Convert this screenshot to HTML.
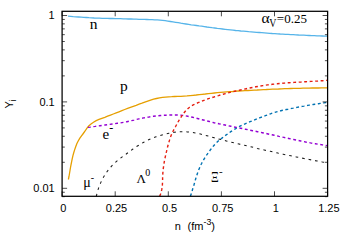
<!DOCTYPE html>
<html><head><meta charset="utf-8"><style>
html,body{margin:0;padding:0;background:#fff;}
svg{display:block;}
text{font-family:"Liberation Sans",sans-serif;font-size:11px;fill:#000;}
.s{font-family:"Liberation Serif",serif;}
</style></head><body>
<svg width="348" height="244" viewBox="0 0 348 244">
<rect width="348" height="244" fill="#fff"/>
<path d="M68.0,16.1 L70.6,16.3 L73.2,16.6 L75.9,16.8 L78.5,17.0 L81.1,17.2 L83.7,17.4 L86.4,17.5 L89.0,17.7 L91.6,17.8 L94.2,18.0 L96.9,18.1 L99.5,18.2 L102.1,18.3 L104.8,18.3 L107.4,18.4 L110.0,18.5 L112.7,18.5 L115.3,18.6 L117.9,18.7 L120.5,18.7 L123.2,18.8 L125.8,18.9 L128.4,19.0 L131.1,19.0 L133.7,19.1 L136.3,19.2 L139.0,19.3 L141.6,19.3 L144.2,19.4 L146.9,19.5 L149.5,19.6 L152.1,19.7 L154.7,19.8 L157.4,19.9 L160.0,20.1 L162.6,20.4 L165.2,20.7 L167.8,21.1 L170.4,21.5 L173.0,21.9 L175.6,22.3 L178.2,22.7 L180.8,23.2 L183.4,23.6 L186.0,24.0 L188.6,24.4 L191.2,24.8 L193.8,25.1 L196.4,25.5 L199.1,25.9 L201.7,26.2 L204.3,26.6 L206.9,27.0 L209.5,27.3 L212.1,27.7 L214.7,28.0 L217.3,28.4 L219.9,28.7 L222.5,29.0 L225.1,29.3 L227.8,29.6 L230.4,29.9 L233.0,30.2 L235.6,30.5 L238.2,30.7 L240.8,31.0 L243.5,31.2 L246.1,31.4 L248.7,31.7 L251.3,31.9 L253.9,32.1 L256.6,32.3 L259.2,32.5 L261.8,32.7 L264.4,32.9 L267.1,33.1 L269.7,33.3 L272.3,33.5 L274.9,33.6 L277.6,33.8 L280.2,34.0 L282.8,34.1 L285.4,34.3 L288.1,34.4 L290.7,34.6 L293.3,34.7 L295.9,34.8 L298.6,35.0 L301.2,35.1 L303.8,35.2 L306.5,35.4 L309.1,35.5 L311.7,35.6 L314.3,35.7 L317.0,35.8 L319.6,35.9 L322.2,36.0 L324.9,36.1 L327.5,36.2" fill="none" stroke="#56B4E9" stroke-width="1.3"/>
<path d="M68.4,179.5 L69.0,176.5 L69.5,173.5 L70.0,170.5 L70.5,167.5 L71.1,164.4 L71.7,161.4 L72.3,158.4 L73.0,155.4 L73.8,152.5 L74.7,149.6 L75.7,146.7 L76.8,143.8 L78.2,141.0 L79.7,138.4 L81.5,135.9 L83.3,133.5 L85.1,131.0 L86.8,128.4 L88.7,126.0 L91.0,124.0 L93.5,122.2 L96.2,120.7 L99.0,119.4 L101.9,118.3 L104.8,117.3 L107.6,116.2 L110.5,115.1 L113.3,114.0 L116.2,112.9 L119.0,111.8 L121.9,110.6 L124.7,109.5 L127.6,108.4 L130.4,107.4 L133.3,106.3 L136.2,105.3 L139.1,104.2 L142.0,103.2 L144.8,102.1 L147.7,101.1 L150.6,100.1 L153.6,99.2 L156.5,98.5 L159.5,97.9 L162.5,97.4 L165.6,97.1 L168.6,96.8 L171.7,96.7 L174.7,96.5 L177.8,96.4 L180.9,96.3 L184.0,96.1 L187.0,95.9 L190.1,95.6 L193.1,95.3 L196.2,95.0 L199.2,94.6 L202.2,94.3 L205.3,94.0 L208.3,93.6 L211.4,93.3 L214.4,93.0 L217.4,92.7 L220.5,92.4 L223.5,92.1 L226.6,91.9 L229.6,91.7 L232.7,91.5 L235.8,91.2 L238.8,91.0 L241.9,90.9 L244.9,90.7 L248.0,90.5 L251.0,90.3 L254.1,90.1 L257.1,90.0 L260.2,89.8 L263.3,89.6 L266.3,89.5 L269.4,89.3 L272.4,89.2 L275.5,89.1 L278.5,89.0 L281.6,88.8 L284.7,88.7 L287.7,88.6 L290.8,88.5 L293.8,88.4 L296.9,88.4 L300.0,88.3 L303.0,88.2 L306.1,88.1 L309.1,88.1 L312.2,88.0 L315.3,88.0 L318.3,88.0 L321.4,87.9 L324.4,87.9 L327.5,87.9" fill="none" stroke="#E69F00" stroke-width="1.3"/>
<path d="M87.9,127.4 L90.3,127.1 L92.8,126.7 L95.2,126.4 L97.7,126.0 L100.1,125.7 L102.5,125.4 L105.0,125.0 L107.4,124.7 L109.9,124.4 L112.3,124.0 L114.7,123.7 L117.2,123.3 L119.6,123.0 L122.0,122.6 L124.5,122.2 L126.9,121.7 L129.3,121.2 L131.7,120.6 L134.1,120.1 L136.5,119.5 L138.9,118.9 L141.3,118.4 L143.7,117.9 L146.1,117.5 L148.6,117.1 L151.0,116.7 L153.4,116.3 L155.9,116.0 L158.3,115.8 L160.8,115.5 L163.2,115.3 L165.7,115.2 L168.1,115.1 L170.6,115.0 L173.1,115.0 L175.5,114.9 L178.0,115.0 L180.4,115.1 L182.9,115.4 L185.3,115.8 L187.8,116.3 L190.2,116.8 L192.6,117.3 L195.0,117.9 L197.4,118.5 L199.8,119.1 L202.1,119.7 L204.5,120.3 L206.9,120.9 L209.3,121.5 L211.7,122.1 L214.1,122.7 L216.5,123.2 L218.9,123.8 L221.3,124.3 L223.7,124.8 L226.1,125.3 L228.5,125.8 L230.9,126.3 L233.3,126.8 L235.7,127.3 L238.2,127.7 L240.6,128.2 L243.0,128.7 L245.4,129.2 L247.8,129.7 L250.2,130.2 L252.7,130.7 L255.1,131.2 L257.5,131.7 L259.9,132.2 L262.3,132.7 L264.7,133.2 L267.1,133.7 L269.5,134.3 L271.9,134.8 L274.3,135.3 L276.7,135.8 L279.1,136.4 L281.5,136.9 L283.9,137.4 L286.3,138.0 L288.8,138.5 L291.2,139.0 L293.6,139.5 L296.0,140.0 L298.4,140.5 L300.8,141.0 L303.2,141.5 L305.6,142.0 L308.1,142.4 L310.5,142.9 L312.9,143.3 L315.3,143.7 L317.8,144.1 L320.2,144.5 L322.6,144.9 L325.1,145.3 L327.5,145.6" fill="none" stroke="#9400D3" stroke-width="1.4" stroke-dasharray="2.9 2.6"/>
<path d="M96.3,196.3 L96.9,193.7 L97.6,191.1 L98.4,188.6 L99.3,186.1 L100.3,183.6 L101.4,181.2 L102.6,178.8 L103.9,176.5 L105.3,174.2 L106.8,172.0 L108.4,169.9 L110.1,167.8 L111.8,165.8 L113.7,163.9 L115.7,162.1 L117.7,160.4 L119.8,158.8 L121.9,157.1 L124.0,155.6 L126.2,154.0 L128.3,152.4 L130.5,150.8 L132.6,149.3 L134.8,147.8 L137.0,146.3 L139.3,144.9 L141.5,143.5 L143.8,142.2 L146.2,140.9 L148.6,139.8 L151.0,138.7 L153.5,137.7 L156.0,136.8 L158.5,136.0 L161.1,135.2 L163.7,134.5 L166.3,133.9 L168.9,133.3 L171.5,132.8 L174.1,132.3 L176.7,132.0 L179.4,131.8 L182.0,131.7 L184.7,131.7 L187.3,131.9 L190.0,132.2 L192.6,132.5 L195.3,133.0 L197.9,133.5 L200.5,134.1 L203.1,134.7 L205.7,135.4 L208.2,136.1 L210.8,136.8 L213.3,137.5 L215.9,138.2 L218.5,138.9 L221.0,139.6 L223.6,140.3 L226.2,140.9 L228.8,141.6 L231.3,142.2 L233.9,142.8 L236.5,143.5 L239.1,144.1 L241.7,144.7 L244.3,145.3 L246.9,145.9 L249.4,146.5 L252.0,147.1 L254.6,147.7 L257.2,148.4 L259.8,149.0 L262.4,149.6 L265.0,150.2 L267.6,150.7 L270.2,151.3 L272.8,151.9 L275.3,152.5 L277.9,153.1 L280.5,153.6 L283.1,154.2 L285.7,154.8 L288.3,155.3 L290.9,155.8 L293.5,156.4 L296.1,156.9 L298.8,157.4 L301.4,158.0 L304.0,158.5 L306.6,159.0 L309.2,159.5 L311.8,160.0 L314.4,160.5 L317.0,160.9 L319.6,161.4 L322.3,161.9 L324.9,162.3 L327.5,162.8" fill="none" stroke="#1a1a1a" stroke-width="1.05" stroke-dasharray="2.6 4.0"/>
<path d="M159.7,196.2 L160.6,194.0 L161.3,191.7 L161.8,189.4 L162.2,187.0 L162.4,184.6 L162.5,182.2 L162.6,179.8 L162.6,177.3 L162.7,174.9 L162.9,172.5 L163.1,170.0 L163.4,167.7 L163.7,165.3 L164.1,162.9 L164.5,160.6 L165.0,158.2 L165.5,155.9 L166.0,153.5 L166.6,151.2 L167.1,148.8 L167.7,146.5 L168.3,144.2 L169.0,141.9 L169.7,139.6 L170.4,137.3 L171.3,135.0 L172.2,132.8 L173.3,130.7 L174.4,128.6 L175.6,126.5 L176.7,124.4 L177.9,122.3 L179.1,120.2 L180.4,118.1 L181.7,116.1 L183.0,114.1 L184.5,112.2 L186.0,110.4 L187.8,108.7 L189.6,107.2 L191.6,105.8 L193.7,104.7 L195.9,103.7 L198.1,102.7 L200.3,101.8 L202.5,100.9 L204.8,100.0 L207.0,99.2 L209.3,98.4 L211.6,97.7 L213.9,97.0 L216.2,96.2 L218.5,95.6 L220.8,94.9 L223.1,94.2 L225.4,93.6 L227.7,93.0 L230.0,92.4 L232.4,91.8 L234.7,91.3 L237.0,90.8 L239.4,90.2 L241.7,89.7 L244.1,89.2 L246.4,88.7 L248.8,88.2 L251.1,87.7 L253.5,87.3 L255.8,86.8 L258.2,86.4 L260.6,86.0 L262.9,85.6 L265.3,85.2 L267.7,84.9 L270.1,84.6 L272.4,84.3 L274.8,84.0 L277.2,83.8 L279.6,83.5 L282.0,83.3 L284.4,83.1 L286.8,82.9 L289.2,82.7 L291.6,82.6 L294.0,82.4 L296.4,82.3 L298.8,82.1 L301.2,82.0 L303.6,81.8 L306.0,81.7 L308.4,81.6 L310.8,81.4 L313.2,81.3 L315.6,81.1 L317.9,81.0 L320.3,80.8 L322.7,80.7 L325.1,80.5 L327.5,80.3" fill="none" stroke="#E51E10" stroke-width="1.4" stroke-dasharray="2.9 2.6"/>
<path d="M190.4,196.2 L191.0,194.5 L191.6,192.8 L192.1,191.1 L192.6,189.3 L193.1,187.6 L193.7,185.8 L194.2,184.1 L194.7,182.3 L195.2,180.6 L195.7,178.8 L196.2,177.0 L196.8,175.3 L197.4,173.6 L198.0,171.8 L198.6,170.1 L199.3,168.4 L200.0,166.8 L200.7,165.1 L201.6,163.5 L202.4,161.9 L203.3,160.3 L204.2,158.8 L205.2,157.2 L206.2,155.7 L207.3,154.2 L208.3,152.7 L209.4,151.2 L210.5,149.7 L211.6,148.3 L212.7,146.9 L213.9,145.5 L215.1,144.1 L216.4,142.8 L217.7,141.6 L219.0,140.4 L220.4,139.2 L221.9,138.1 L223.3,137.0 L224.8,135.9 L226.3,134.8 L227.8,133.8 L229.3,132.7 L230.8,131.7 L232.3,130.7 L233.8,129.7 L235.4,128.8 L236.9,127.9 L238.5,127.0 L240.1,126.1 L241.8,125.3 L243.4,124.6 L245.1,123.8 L246.7,123.1 L248.4,122.4 L250.1,121.7 L251.8,121.0 L253.5,120.3 L255.2,119.6 L256.8,118.9 L258.5,118.3 L260.2,117.6 L261.9,117.0 L263.6,116.4 L265.4,115.7 L267.1,115.1 L268.8,114.4 L270.5,113.8 L272.2,113.2 L273.9,112.7 L275.7,112.1 L277.4,111.6 L279.2,111.2 L280.9,110.7 L282.7,110.3 L284.5,109.9 L286.3,109.5 L288.0,109.2 L289.8,108.8 L291.6,108.4 L293.4,108.1 L295.2,107.7 L297.0,107.4 L298.8,107.0 L300.5,106.7 L302.3,106.4 L304.1,106.1 L305.9,105.7 L307.7,105.4 L309.5,105.1 L311.3,104.8 L313.1,104.5 L314.9,104.2 L316.7,104.0 L318.5,103.7 L320.3,103.4 L322.1,103.2 L323.9,102.9 L325.7,102.6 L327.5,102.4" fill="none" stroke="#0072B2" stroke-width="1.4" stroke-dasharray="2.9 2.6"/>
<path d="M62.1,188.30h5M327.6,188.30h-5M62.1,162.29h2.7M327.6,162.29h-2.7M62.1,147.08h2.7M327.6,147.08h-2.7M62.1,136.28h2.7M327.6,136.28h-2.7M62.1,127.91h2.7M327.6,127.91h-2.7M62.1,121.07h2.7M327.6,121.07h-2.7M62.1,115.28h2.7M327.6,115.28h-2.7M62.1,110.27h2.7M327.6,110.27h-2.7M62.1,105.85h2.7M327.6,105.85h-2.7M62.1,101.90h5M327.6,101.90h-5M62.1,75.89h2.7M327.6,75.89h-2.7M62.1,60.68h2.7M327.6,60.68h-2.7M62.1,49.88h2.7M327.6,49.88h-2.7M62.1,41.51h2.7M327.6,41.51h-2.7M62.1,34.67h2.7M327.6,34.67h-2.7M62.1,28.88h2.7M327.6,28.88h-2.7M62.1,23.87h2.7M327.6,23.87h-2.7M62.1,19.45h2.7M327.6,19.45h-2.7M62.1,15.50h5M327.6,15.50h-5M62.1,196.67h2.7M327.6,196.67h-2.7M62.1,192.25h2.7M327.6,192.25h-2.7M62.10,196.3v-5M62.10,11.3v5M115.20,196.3v-5M115.20,11.3v5M168.30,196.3v-5M168.30,11.3v5M221.40,196.3v-5M221.40,11.3v5M274.50,196.3v-5M274.50,11.3v5M327.60,196.3v-5M327.60,11.3v5" stroke="#000" stroke-width="0.7" fill="none"/>
<rect x="62.1" y="11.3" width="265.5" height="185.0" fill="none" stroke="#000" stroke-width="1.25"/>
<text x="63.4" y="212.4" text-anchor="middle">0</text><text x="116.5" y="212.4" text-anchor="middle">0.25</text><text x="169.6" y="212.4" text-anchor="middle">0.5</text><text x="222.7" y="212.4" text-anchor="middle">0.75</text><text x="275.8" y="212.4" text-anchor="middle">1</text><text x="328.9" y="212.4" text-anchor="middle">1.25</text>
<text x="54.7" y="19.4" text-anchor="end">1</text><text x="54.7" y="105.8" text-anchor="end">0.1</text><text x="54.7" y="192.2" text-anchor="end">0.01</text>
<text x="174.8" y="229.5">n</text><text x="187.6" y="229.5">(fm<tspan dy="-5" style="font-size:8.8px">-3</tspan><tspan dy="5">)</tspan></text>
<text transform="translate(12.6,108.5) rotate(-90)">Y<tspan dx="-0.3" dy="3.3" style="font-size:9.5px">i</tspan></text>
<text class="s" x="89.8" y="29.4" style="font-size:15.5px">n</text>
<text class="s" x="120" y="91.2" style="font-size:15.5px">p</text>
<text class="s" x="102.5" y="139.2" style="font-size:15px">e<tspan dy="-7.5" style="font-size:12px">-</tspan></text>
<text class="s" x="83.2" y="187" style="font-size:14px">μ<tspan dy="-6" style="font-size:10px">-</tspan></text>
<text class="s" x="136.5" y="183" style="font-size:13px">Λ<tspan dx="-0.6" dy="-7.1" style="font-size:10px">0</tspan></text>
<text class="s" transform="translate(210.9,181.6) scale(0.88,1)" style="font-size:13.6px">Ξ</text><text class="s" x="219" y="174.5" style="font-size:11px">-</text>
<text class="s" x="261.4" y="23" style="font-size:15.5px">α</text><text class="s" transform="translate(269.2,26.8) scale(0.84,1)" style="font-size:11.8px">V</text><text class="s" x="276.8" y="22.6" style="font-size:13px">=0.25</text>
</svg>
</body></html>
